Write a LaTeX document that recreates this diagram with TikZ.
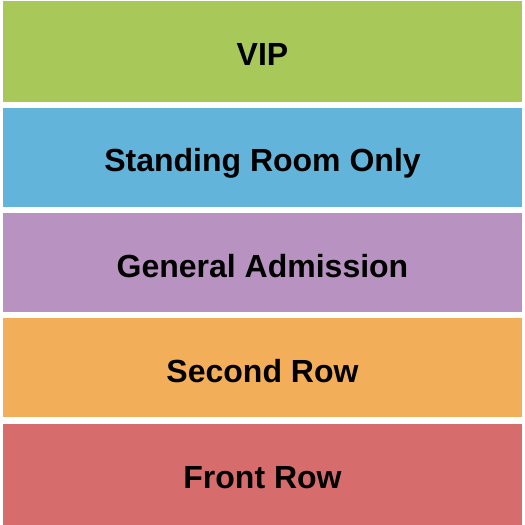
\documentclass[tikz,border=0pt]{standalone}
\usepackage{fontspec}
\setmainfont{Liberation Sans}

\definecolor{vipgreen}{HTML}{A8C95A}
\definecolor{srblue}{HTML}{63B4DB}
\definecolor{gapurple}{HTML}{B892C1}
\definecolor{sroworange}{HTML}{F3AE5A}
\definecolor{frowred}{HTML}{D76C6D}

\begin{document}
\begin{tikzpicture}[x=1pt, y=-1pt,
    section/.style ={rectangle, inner sep=0pt, minimum width=519pt,
      minimum height=99pt, text height=29.5pt, text depth=0pt,
      font=\fontsize{32}{38}\selectfont\bfseries}]
   \useasboundingbox (0,0) rectangle (525,525);
   \node[section, fill=vipgreen, minimum height=101pt] (vip) at (262.5,51) {VIP};
   \node[section, fill=srblue] (standing) at (262.5,157) {Standing Room Only};
   \node[section, fill=gapurple] (general) at (262.5,262.5) {General Admission};
   \node[section, fill=sroworange] (second) at (262.5,367.5) {Second Row};
   \node[section, fill=frowred, minimum height=101pt] (front) at (262.5,474) {Front Row};
 \end{tikzpicture}
\end{document}
